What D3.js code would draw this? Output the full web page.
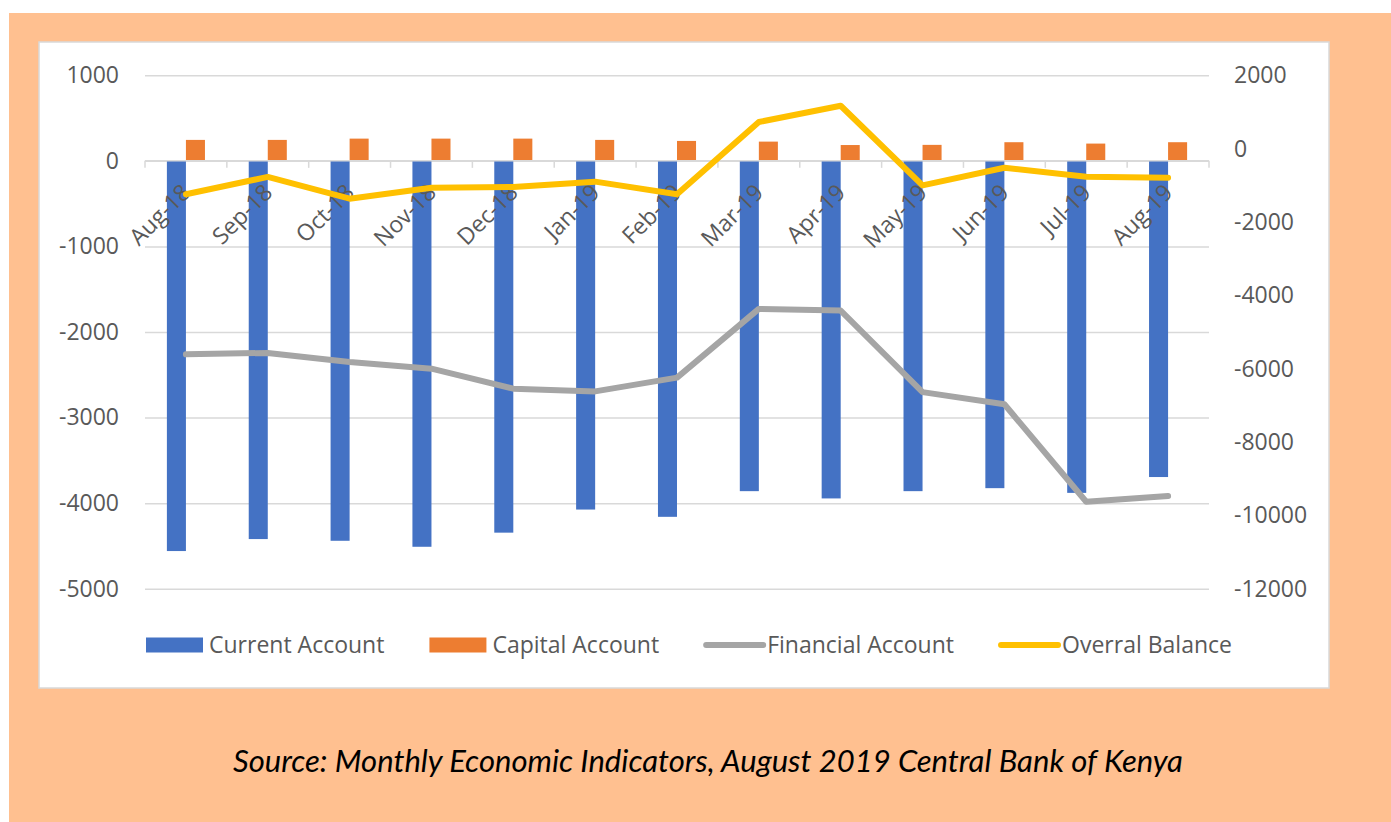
<!DOCTYPE html>
<html>
<head>
<meta charset="utf-8">
<script src="https://cdn.jsdelivr.net/npm/d3@7"></script>
<style>
  body { margin: 0; background: #fff; }
  svg { display: block; }
</style>
</head>
<body>
<div id="chart"></div>
<script>
// data
var months = ["Aug-18", "Sep-18", "Oct-18", "Nov-18", "Dec-18", "Jan-19", "Feb-19",
  "Mar-19", "Apr-19", "May-19", "Jun-19", "Jul-19", "Aug-19"];
var currentAccount = [-4560, -4420, -4440, -4510, -4345, -4075, -4160, -3860, -3945, -3860, -3825, -3880, -3695];
var capitalAccount = [245, 245, 260, 260, 260, 245, 233, 225, 185, 187, 218, 202, 218];
var financialAccount = [-5610, -5570, -5820, -6000, -6545, -6620, -6245, -4370, -4415, -6640, -6970, -9630, -9475];
var overallBalance = [-1245, -770, -1365, -1065, -1045, -900, -1245, 725, 1170, -1000, -520, -765, -795];
var leftTicks = [1000, 0, -1000, -2000, -3000, -4000, -5000];
var rightTicks = [2000, 0, -2000, -4000, -6000, -8000, -10000, -12000];
var legendNames = ["Current Account", "Capital Account", "Financial Account", "Overral Balance"];
var caption = "Source: Monthly Economic Indicators, August 2019 Central Bank of Kenya";

var W = 1391, H = 822;
var colors = ["#4472C4", "#ED7D31", "#A5A5A5", "#FFC000"];
var textColor = "#595959";
var gridColor = "#D9D9D9";
var font = "'Open Sans', sans-serif";
var fs = 23;
var plain = function (d) { return String(d); }; // keep the ASCII hyphen as in the picture

var svg = d3.select("#chart").append("svg")
  .attr("width", W)
  .attr("height", H);

// peach frame and white chart box
svg.append("rect").attr("x", 9).attr("y", 13).attr("width", W - 9).attr("height", H - 13).attr("fill", "#FFC090");
svg.append("rect").attr("x", 39).attr("y", 42).attr("width", 1290).attr("height", 646)
  .attr("fill", "#fff").attr("stroke", gridColor).attr("stroke-width", 1.5);

var pLeft = 145, pRight = 1209, pTop = 75.3, pBottom = 588.7;

var x0 = d3.scaleBand().domain(months).range([pLeft, pRight]).paddingInner(0).paddingOuter(0);
var x1 = d3.scaleBand().domain(["current", "capital"]).range([0, x0.bandwidth()]).paddingInner(0).paddingOuter(1.15);
var yL = d3.scaleLinear().domain([-5000, 1000]).range([pBottom, pTop]);
var yR = d3.scaleLinear().domain([-12000, 2000]).range([pBottom, pTop]);

// left axis with gridlines
var gL = svg.append("g")
  .attr("transform", "translate(" + pLeft + ",0)")
  .call(d3.axisLeft(yL).tickValues(leftTicks).tickSize(-(pRight - pLeft)).tickPadding(26).tickFormat(plain));
gL.select(".domain").remove();
gL.selectAll(".tick line").attr("stroke", gridColor).attr("stroke-width", 1.5);
gL.selectAll(".tick text").attr("fill", textColor).attr("font-family", font).attr("font-size", fs);

// right axis
var gR = svg.append("g")
  .attr("transform", "translate(" + pRight + ",0)")
  .call(d3.axisRight(yR).tickValues(rightTicks).tickSize(0).tickPadding(25).tickFormat(plain));
gR.select(".domain").remove();
gR.selectAll(".tick text").attr("fill", textColor).attr("font-family", font).attr("font-size", fs);

// bars
var idx = d3.range(months.length);
svg.append("g").selectAll("rect")
  .data(idx)
  .join("rect")
  .attr("x", function (i) { return x0(months[i]) + x1("current"); })
  .attr("y", yL(0))
  .attr("width", x1.bandwidth())
  .attr("height", function (i) { return yL(currentAccount[i]) - yL(0); })
  .attr("fill", colors[0]);

svg.append("g").selectAll("rect")
  .data(idx)
  .join("rect")
  .attr("x", function (i) { return x0(months[i]) + x1("capital"); })
  .attr("y", function (i) { return yL(capitalAccount[i]); })
  .attr("width", x1.bandwidth())
  .attr("height", function (i) { return yL(0) - yL(capitalAccount[i]); })
  .attr("fill", colors[1]);

// category axis at zero, ticks on the boundaries
var zeroY = yL(0);
var gX = svg.append("g").attr("transform", "translate(0," + zeroY + ")");
gX.append("line").attr("x1", pLeft).attr("x2", pRight).attr("stroke", gridColor).attr("stroke-width", 1.5);
gX.selectAll(".bound")
  .data(d3.range(months.length + 1))
  .join("line")
  .attr("class", "bound")
  .attr("x1", function (k) { return pLeft + k * x0.step(); })
  .attr("x2", function (k) { return pLeft + k * x0.step(); })
  .attr("y1", 0).attr("y2", 7)
  .attr("stroke", gridColor).attr("stroke-width", 1.5);

var xAxis = d3.axisBottom(x0).tickSize(0);
var gXL = svg.append("g").attr("transform", "translate(0," + zeroY + ")").call(xAxis);
gXL.select(".domain").remove();
gXL.selectAll(".tick text")
  .attr("y", 0).attr("dy", 0)
  .attr("text-anchor", "end")
  .attr("transform", "translate(6,33) rotate(-45)")
  .attr("fill", textColor).attr("font-family", font).attr("font-size", fs);

// lines on secondary axis
var line = d3.line()
  .x(function (i) { return x0(months[i]) + x0.bandwidth() / 2; });

svg.append("path")
  .datum(idx)
  .attr("d", line.y(function (i) { return yR(financialAccount[i]); }))
  .attr("fill", "none").attr("stroke", colors[2]).attr("stroke-width", 6)
  .attr("stroke-linecap", "round").attr("stroke-linejoin", "round");

svg.append("path")
  .datum(idx)
  .attr("d", line.y(function (i) { return yR(overallBalance[i]); }))
  .attr("fill", "none").attr("stroke", colors[3]).attr("stroke-width", 6)
  .attr("stroke-linecap", "round").attr("stroke-linejoin", "round");

// legend
var lx = 146, ly = 645;
legendNames.forEach(function (name, i) {
  var g = svg.append("g").attr("transform", "translate(" + lx + "," + ly + ")");
  if (i < 2) {
    g.append("rect").attr("x", 0).attr("y", -7.5).attr("width", 57).attr("height", 15).attr("fill", colors[i]);
  } else {
    g.append("line").attr("x1", 2).attr("x2", 59).attr("y1", 0).attr("y2", 0)
      .attr("stroke", colors[i]).attr("stroke-width", 6).attr("stroke-linecap", "round");
  }
  var t = g.append("text").attr("x", 63).attr("dy", "0.35em")
    .attr("fill", textColor).attr("font-family", font).attr("font-size", fs)
    .text(name);
  lx += 63 + t.node().getComputedTextLength() + 45;
});

// source caption
svg.append("text")
  .attr("x", 708).attr("y", 772)
  .attr("text-anchor", "middle")
  .attr("font-family", "Lato, sans-serif").attr("font-style", "italic").attr("font-size", 31)
  .attr("fill", "#000")
  .text(caption);
</script>
</body>
</html>
